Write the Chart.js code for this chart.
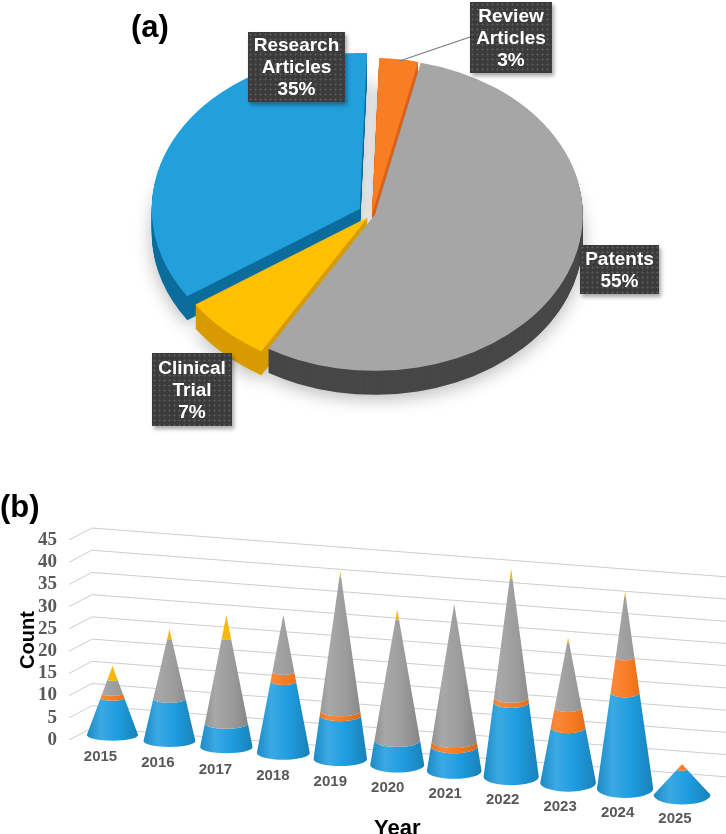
<!DOCTYPE html>
<html>
<head>
<meta charset="utf-8">
<script src="https://cdn.jsdelivr.net/npm/chart.js@4.4.1/dist/chart.umd.min.js"></script>
<style>
  html, body { margin: 0; padding: 0; background: #fff; width: 726px; height: 834px; overflow: hidden; }
  #page { position: relative; width: 726px; height: 834px; font-family: "Liberation Sans", Arial, sans-serif; }
  #pieBox { position: absolute; left: 0; top: 0; width: 726px; height: 440px; }
  #coneBox { position: absolute; left: 0; top: 440px; width: 726px; height: 400px; }
  .panel { position: absolute; font-weight: bold; font-size: 31px; line-height: 31px; color: #000; }
  .tag {
    position: absolute; display: flex; align-items: center; justify-content: center;
    background-color: #3b3b3b;
    background-image: radial-gradient(circle, rgba(255,255,255,0.14) 0.9px, transparent 1.4px);
    background-size: 5px 5px;
    color: #fff; font-weight: bold; font-size: 19px; line-height: 22px; text-align: center;
    box-shadow: 2px 3px 4px rgba(0,0,0,0.35);
  }
</style>
</head>
<body>
<div id="page">
  <div id="pieBox"><canvas id="pieChart"></canvas></div>
  <div id="coneBox"><canvas id="coneChart"></canvas></div>
  <div class="panel" style="left:131px; top:11px;">(a)</div>
  <div class="panel" style="left:0px; top:491px;">(b)</div>
</div>
<script>
// (a) share of records by type, clockwise from the top
var pieLabels = ['Review Articles', 'Patents', 'Clinical Trial', 'Research Articles'];
var pieShares = [3, 55, 7, 35];
var pieColors = ['#f97d23', '#a6a6a6', '#ffc000', '#22a0dc'];
var pieSideColors = ['#d9621a', '#474747', '#d79b00', '#0c6d9c'];

// (b) records per year, stacked
var years = ['2015', '2016', '2017', '2018', '2019', '2020', '2021', '2022', '2023', '2024', '2025'];
var researchCounts = [8, 9, 5, 15, 9, 5, 5, 15, 11, 19, 5];
var reviewCounts   = [1, 0, 0, 2, 1, 0, 1, 1, 4, 7, 1];
var patentCounts   = [3, 13, 18, 12, 28, 25, 28, 24, 13, 12, 0];
var trialCounts    = [3, 2, 5, 0, 1, 2, 0, 2, 1, 1, 0];
var coneColors = ['#1f9de0', '#f7791f', '#9c9c9c', '#f4b400'];

var SANS = '"Liberation Sans", Arial, sans-serif';
var SERIF = '"Liberation Serif", "Times New Roman", serif';

function shade(hex, amt){
	var n = parseInt(hex.slice(1), 16);
	var c = [(n >> 16) & 255, (n >> 8) & 255, n & 255];
	c = c.map(function(v){
		return Math.round(amt >= 0 ? v + (255 - v) * amt : v * (1 + amt));
	});
	return 'rgb(' + c.join(',') + ')';
}

// label boxes of the pie
var tagPos = [
	{ left: 470, top: 2, w: 82, h: 71 },
	{ left: 580, top: 245, w: 79, h: 49 },
	{ left: 152, top: 353, w: 80, h: 73 },
	{ left: 248, top: 32, w: 97, h: 70 }
];
var tagEls = pieLabels.map(function(name, k){
	var el = document.createElement('div');
	el.className = 'tag';
	var p = tagPos[k];
	el.style.left = p.left + 'px';
	el.style.top = p.top + 'px';
	el.style.width = p.w + 'px';
	el.style.height = p.h + 'px';
	el.innerHTML = '<div>' + name.split(' ').join('<br>') + '<br>' + pieShares[k] + '%</div>';
	document.getElementById('page').appendChild(el);
	return el;
});

var TILT = 0.75, DEPTH = 24;
var pieExplode = [0, 3, 6, 14];

var tiltPie = {
	id: 'tiltPie',
	beforeDatasetsDraw: function(chart){
		var ctx = chart.ctx;
		var arcs = chart.getDatasetMeta(0).data;
		var cy = arcs[0].y;
		var shift = arcs.map(function(a, k){
			var mid = (a.startAngle + a.endAngle) / 2;
			return [Math.cos(mid) * pieExplode[k], Math.sin(mid) * pieExplode[k]];
		});
		ctx.save();
		ctx.translate(0, cy);
		ctx.scale(1, TILT);
		ctx.translate(0, -cy);
		for (var dz = DEPTH; dz >= 1; dz--) {
			arcs.forEach(function(a, k){
				var side = Object.create(a);
				side.options = Object.assign({}, a.options, { backgroundColor: pieSideColors[k] });
				ctx.save();
				if (dz === DEPTH) {
					ctx.shadowColor = 'rgba(0,0,0,0.28)';
					ctx.shadowBlur = 18;
					ctx.shadowOffsetY = 4;
				}
				ctx.translate(shift[k][0], shift[k][1] + dz / TILT);
				side.draw(ctx);
				ctx.restore();
			});
		}
		arcs.forEach(function(a, k){
			ctx.save();
			ctx.translate(shift[k][0], shift[k][1]);
			a.draw(ctx);
			ctx.restore();
		});
		ctx.restore();

		// leader line from the review label to its slice
		var a0 = arcs[0];
		var mid = (a0.startAngle + a0.endAngle) / 2;
		var px = a0.x + shift[0][0] + a0.outerRadius * Math.cos(mid);
		var py = cy + (a0.y + shift[0][1] + a0.outerRadius * Math.sin(mid) - cy) * TILT;
		ctx.save();
		ctx.strokeStyle = '#7a7a7a';
		ctx.lineWidth = 1.2;
		ctx.beginPath();
		ctx.moveTo(tagEls[0].offsetLeft, tagEls[0].offsetTop + 35);
		ctx.lineTo(px, py + 2);
		ctx.stroke();
		ctx.restore();
		return false;
	}
};

new Chart(document.getElementById('pieChart'), {
	type: 'pie',
	data: {
		labels: pieLabels,
		datasets: [{
			data: pieShares,
			backgroundColor: pieColors,
			borderWidth: 0,
			radius: 208,
			rotation: 2,
			clip: false
		}]
	},
	options: {
		responsive: true,
		maintainAspectRatio: false,
		animation: false,
		rotation: 2,
		layout: { padding: { left: 18, bottom: 12 } },
		plugins: { legend: { display: false }, tooltip: { enabled: false } }
	},
	plugins: [tiltPie]
});

// cones drawn on the stacked bar layout, with a slanted floor
var conePlugin = {
	id: 'cones',
	beforeDatasetsDraw: function(chart){
		var ctx = chart.ctx;
		var yScale = chart.scales.y;
		var area = chart.chartArea;
		var xFront = area.left - 15, xBack = area.left + 8;

		ctx.save();
		ctx.strokeStyle = '#cdcdcd';
		ctx.lineWidth = 1;
		yScale.ticks.forEach(function(t){
			var p = yScale.getPixelForValue(t.value);
			ctx.beginPath();
			ctx.moveTo(xFront, p);
			ctx.lineTo(xBack, p - 12);
			ctx.lineTo(chart.width, p - 12 + 0.077 * (chart.width - xBack));
			ctx.stroke();
		});
		ctx.restore();

		var metas = chart.data.datasets.map(function(d, k){ return chart.getDatasetMeta(k); });
		var zero = yScale.getPixelForValue(0);
		var firstX = metas[0].data[0].x;

		years.forEach(function(yr, i){
			var cx = metas[0].data[i].x;
			var grow = 1.035 + 0.0115 * i;
			var R = metas[0].data[i].width * (1 + 0.011 * i) / 2;
			var flat = 0.22 + 0.012 * i;
			var floorY = zero - 5 + 0.105 * (cx - firstX);
			var top = zero;
			metas.forEach(function(m){ top = Math.min(top, m.data[i].y); });
			var H = (zero - top) * grow;

			if (H > 0) {
				metas.forEach(function(m, k){
					var el = m.data[i];
					var hb = (zero - el.base) * grow, ht = (zero - el.y) * grow;
					if (ht - hb < 0.1) { return; }
					var rb = R * (1 - hb / H), rt = Math.max(R * (1 - ht / H), 0);
					var yb = floorY - hb, yt = floorY - ht;
					var col = chart.data.datasets[k].backgroundColor;
					var g = ctx.createLinearGradient(cx - R, 0, cx + R, 0);
					g.addColorStop(0, shade(col, -0.12));
					g.addColorStop(0.28, shade(col, 0.12));
					g.addColorStop(0.6, col);
					g.addColorStop(1, shade(col, -0.18));
					ctx.beginPath();
					ctx.moveTo(cx - rb, yb);
					ctx.ellipse(cx, yb, rb, rb * flat, 0, Math.PI, 0, true);
					ctx.lineTo(cx + rt, yt);
					if (rt > 0) { ctx.ellipse(cx, yt, rt, rt * flat, 0, 0, Math.PI, false); }
					ctx.closePath();
					ctx.fillStyle = g;
					ctx.fill();
				});
			}

			ctx.save();
			ctx.fillStyle = '#595959';
			ctx.font = 'bold 15px ' + SANS;
			ctx.textAlign = 'center';
			ctx.textBaseline = 'middle';
			ctx.fillText(yr, cx - 12 + 0.5 * i, floorY + 22 + 0.2 * i);
			ctx.restore();
		});
		return false;
	}
};

new Chart(document.getElementById('coneChart'), {
	type: 'bar',
	data: {
		labels: years,
		datasets: [
			{ label: 'Research Articles', data: researchCounts, backgroundColor: coneColors[0] },
			{ label: 'Review Articles', data: reviewCounts, backgroundColor: coneColors[1] },
			{ label: 'Patents', data: patentCounts, backgroundColor: coneColors[2] },
			{ label: 'Clinical Trial', data: trialCounts, backgroundColor: coneColors[3] }
		]
	},
	options: {
		responsive: true,
		maintainAspectRatio: false,
		animation: false,
		layout: { padding: { top: 100, right: 15.5, left: 0, bottom: 0 } },
		datasets: { bar: { categoryPercentage: 1, barPercentage: 0.9 } },
		plugins: { legend: { display: false }, tooltip: { enabled: false } },
		scales: {
			x: {
				stacked: true,
				grid: { display: false },
				border: { display: false },
				ticks: { display: false },
				title: {
					display: true, text: 'Year', color: '#000',
					font: { family: SANS, size: 22, weight: 'bold', lineHeight: 1 },
					padding: { top: 2, bottom: 0 }
				},
				afterFit: function(s){ s.height = 100; }
			},
			y: {
				stacked: true,
				min: 0,
				max: 45,
				grid: { display: false },
				border: { display: false },
				ticks: {
					stepSize: 5, padding: 19, color: '#595959', autoSkip: false,
					font: { family: SERIF, size: 19, weight: 'bold' }
				},
				title: {
					display: true, text: 'Count', color: '#000',
					font: { family: SANS, size: 20, weight: 'bold' },
					padding: { top: 16, bottom: 0 }
				},
				afterFit: function(s){ s.width = 84; }
			}
		}
	},
	plugins: [conePlugin]
});
</script>
</body>
</html>
